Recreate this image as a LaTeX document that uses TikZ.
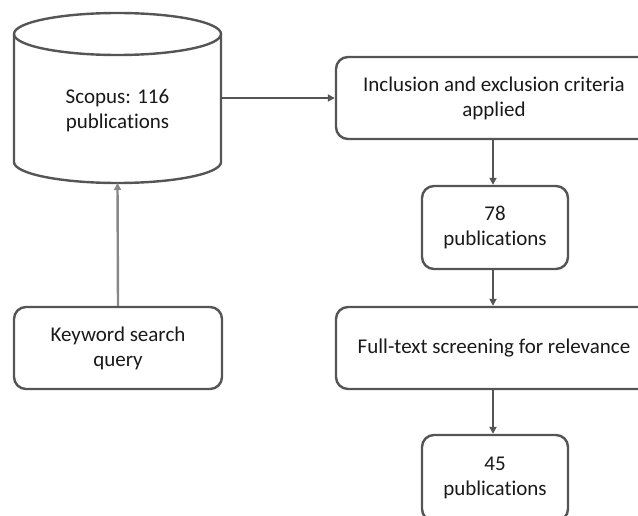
\documentclass[tikz,border=0pt]{standalone}
\usepackage{fontspec}
\setmainfont[Ligatures=NoCommon]{Carlito}
\usetikzlibrary{arrows.meta}
\definecolor{edge}{HTML}{555555}
\definecolor{edgelight}{HTML}{888888}
\tikzset{
  txt/.style={align=center, font=\fontsize{21}{25}\selectfont, text=black!90},
  box/.style={txt, draw=edge, line width=2.4pt, rounded corners=12pt, inner sep=0pt},
  arr/.style={draw=edge, line width=2.4pt, -{Triangle[length=7pt,width=7pt]}},
  arrlight/.style={draw=edgelight, line width=2.4pt, -{Triangle[length=7pt,width=7pt]}},
}
\begin{document}
\begin{tikzpicture}[x=1pt,y=-1pt]
\useasboundingbox (0,0) rectangle (638,516);
\clip (0,0) rectangle (638,516);
% cylinder
\draw[edge, line width=2.4pt, fill=white] (14,34) -- (14,162) arc[start angle=180, end angle=360, x radius=103.5, y radius=-21] -- (221,34);
\draw[edge, line width=2.4pt] (117.5,34) ellipse[x radius=103.5, y radius=21];
\node[txt] (db) at (117.5,111) {Scopus: 116\\publications};
\coordinate (dbE) at (221,98);
\coordinate (dbS) at (117.5,183);
% boxes
\node[box, minimum width=316pt, minimum height=82pt] (incl) at (494,98) {Inclusion and exclusion criteria\\applied};
\node[box, minimum width=146pt, minimum height=83pt] (p78) at (495,227.5) {78\\publications};
\node[box, minimum width=316pt, minimum height=82pt] (full) at (494,348) {Full-text screening for relevance};
\node[box, minimum width=146pt, minimum height=86pt] (p45) at (495,478) {45\\publications};
\node[box, minimum width=208pt, minimum height=82pt] (kw) at (118,348) {Keyword search\\query};
% connectors
\draw[arr] (dbE) -- (incl.west |- dbE);
\draw[arr] (incl.south -| 493,0) -- (p78.north -| 493,0);
\draw[arr] (p78.south -| 493,0) -- (full.north -| 493,0);
\draw[arr] (full.south -| 493,0) -- (p45.north -| 493,0);
\draw[arrlight] (kw.north) -- (dbS);
\end{tikzpicture}
\end{document}
